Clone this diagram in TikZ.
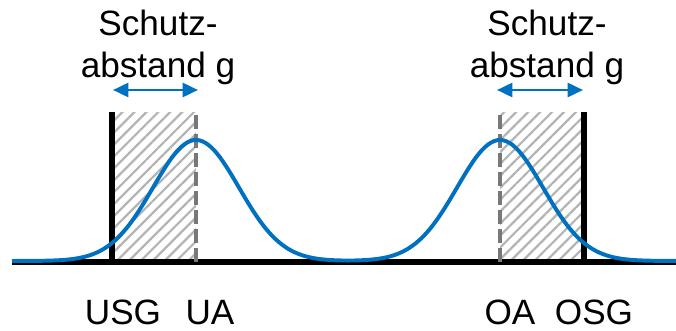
\documentclass[tikz,border=0pt]{standalone}
\usepackage{fontspec}
\setmainfont{Liberation Sans}
\usepackage{xcolor}
\usepackage{tikz}
\usetikzlibrary{arrows.meta, patterns.meta}
\definecolor{curveblue}{RGB}{0, 112, 192}
\definecolor{limitgray}{RGB}{120, 120, 120}
\definecolor{hatchgray}{RGB}{180, 180, 180}

\begin{document}
\begin{tikzpicture}[x=0.025cm, y=0.025cm,
    limit/.style={line width=4.3pt, color=black},
    target/.style={line width=3.5pt, color=limitgray, dash pattern=on 10pt off 3.5pt},
    gap/.style={pattern={Lines[angle=45, distance=6pt, line width=1.6pt]}, pattern color=hatchgray},
    curve/.style={line width=2.8pt, color=curveblue},
    dist/.style={line width=2pt, color=curveblue, {Triangle[length=11pt,width=10pt]}-{Triangle[length=11pt,width=10pt]}},
    label/.style={font=\fontsize{25}{30}\selectfont, align=center, inner sep=0pt}
]
    \useasboundingbox (0,0) rectangle (676,330);

    % limits on the axis
    \coordinate (usgb) at (112,68);  \coordinate (usgt) at (112,218);
    \coordinate (uab)  at (196,68);  \coordinate (uat)  at (196,218);
    \coordinate (oab)  at (500,68);  \coordinate (oat)  at (500,218);
    \coordinate (osgb) at (584,68);  \coordinate (osgt) at (584,218);

    % hatched safety distances
    \fill[gap] (usgb) rectangle (uat);
    \fill[gap] (oab) rectangle (osgt);

    \draw[limit] (12,68) -- (676,68);
    \draw[limit] (usgb) -- (usgt);
    \draw[limit] (osgb) -- (osgt);
    \draw[target] (uab) -- (uat);
    \draw[target] (oab) -- (oat);

    % two distributions
    \draw[curve] plot[domain=12:676, samples=220, smooth]
        (\x, {69 + 121*(exp(-min(((\x-196)/43)^2/2, 9)) + exp(-min(((\x-500)/43)^2/2, 9)))});

    % distance arrows
    \coordinate (gl1) at (113,240); \coordinate (gl2) at (198,240);
    \coordinate (gr1) at (497,240); \coordinate (gr2) at (583,240);
    \draw[dist] (gl1) -- (gl2);
    \draw[dist] (gr1) -- (gr2);

    \node[label, anchor=base] (gleft) at (158,252) {Schutz-\\abstand g};
    \node[label, anchor=base] (gright) at (547,252) {Schutz-\\abstand g};

    \node[label, anchor=base] (usg) at (123,6) {USG};
    \node[label, anchor=base] (ua) at (210,6) {UA};
    \node[label, anchor=base] (oa) at (510,6) {OA};
    \node[label, anchor=base] (osg) at (594,6) {OSG};
\end{tikzpicture}
\end{document}
